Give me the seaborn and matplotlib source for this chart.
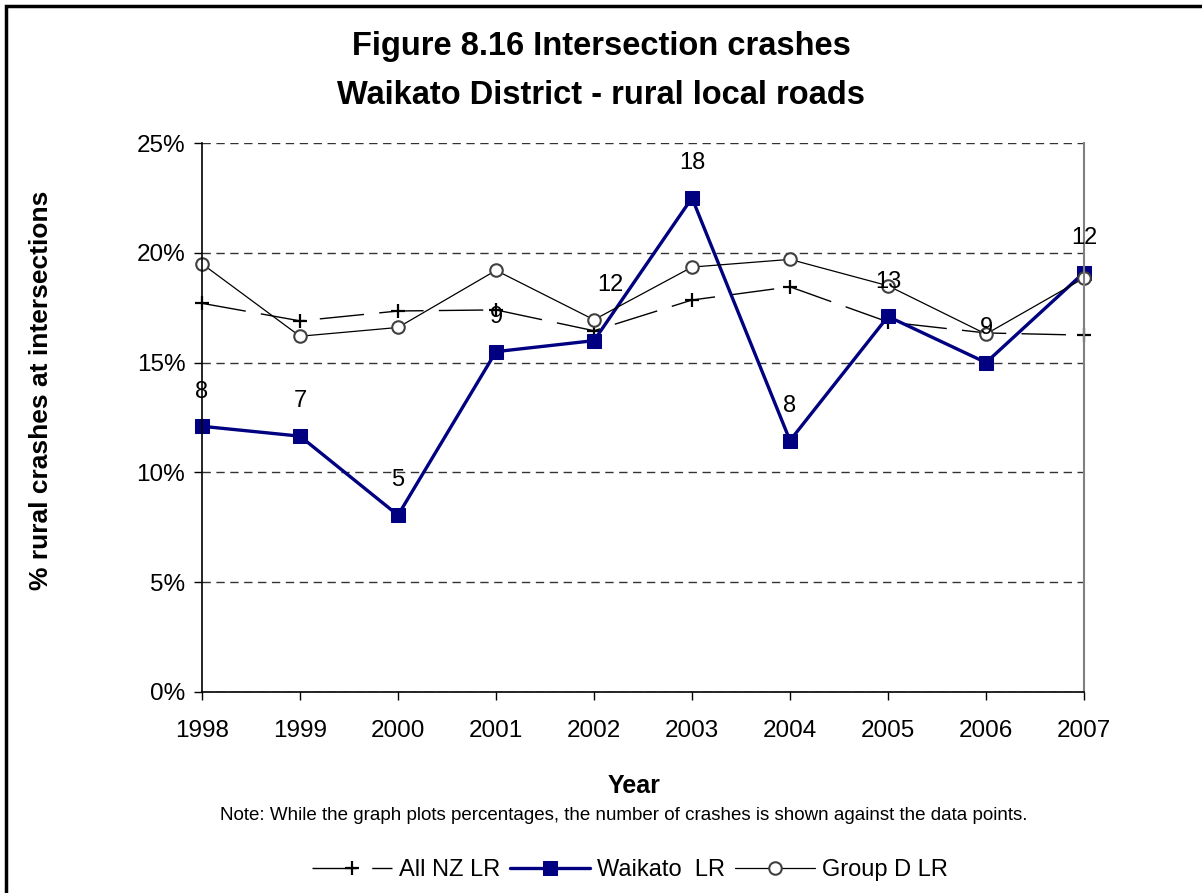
import seaborn as sns
import matplotlib.pyplot as plt
from matplotlib.patches import Rectangle
from matplotlib.ticker import FuncFormatter

years = [1998, 1999, 2000, 2001, 2002, 2003, 2004, 2005, 2006, 2007]
all_nz = [17.7, 16.9, 17.35, 17.4, 16.45, 17.85, 18.45, 16.85, 16.35, 16.25]
waikato = [12.1, 11.65, 8.05, 15.5, 16.0, 22.5, 11.45, 17.1, 15.0, 19.1]
group_d = [19.5, 16.2, 16.6, 19.2, 16.95, 19.35, 19.7, 18.5, 16.3, 18.85]
crash_counts = [8, 7, 5, 9, 12, 18, 8, 13, 9, 12]


def main() -> None:
    sns.set_style("white")
    plt.rcParams["font.family"] = ["Liberation Sans", "DejaVu Sans"]
    plt.rcParams["text.color"] = "black"
    plt.rcParams["axes.labelcolor"] = "black"

    fig = plt.figure(figsize=(12.02, 8.93), dpi=100)
    ax = fig.add_axes([202 / 1202, 1 - 692 / 893, 882 / 1202, 549 / 893])

    sns.lineplot(x=years, y=all_nz, ax=ax, color="black", linewidth=1,
                 linestyle=(0, (32, 11)), marker="+", markersize=10,
                 markeredgecolor="black", markeredgewidth=1.6,
                 label="All NZ LR", clip_on=False)
    sns.lineplot(x=years, y=waikato, ax=ax, color="#000080", linewidth=2.4,
                 marker="s", markersize=10, markeredgecolor="#000080",
                 label="Waikato  LR", clip_on=False)
    sns.lineplot(x=years, y=group_d, ax=ax, color="black", linewidth=0.9,
                 marker="o", markersize=9, markerfacecolor="white",
                 markeredgecolor="#404040", markeredgewidth=1.5,
                 label="Group D LR", clip_on=False)

    # crash counts shown against the Waikato points
    for yr, val, n in zip(years, waikato, crash_counts):
        dx, dy = (12, 40) if yr == 2002 else (0, 25)
        ax.annotate(str(n), (yr, val), xytext=(dx, dy), textcoords="offset points",
                    ha="center", va="center", fontsize=17, annotation_clip=False)

    ax.set_xlim(1998, 2007)
    ax.set_ylim(0, 25)
    ax.set_xticks(years)
    ax.set_yticks([0, 5, 10, 15, 20, 25])
    ax.yaxis.set_major_formatter(FuncFormatter(lambda v, p: f"{v:.0f}%"))
    ax.tick_params(axis="both", direction="out", length=6, width=1,
                   labelsize=17.5, colors="black", bottom=True, left=True)
    ax.tick_params(axis="x", pad=14)
    ax.tick_params(axis="y", pad=6)
    ax.grid(axis="y", linestyle=(0, (6, 4)), color="#333333", linewidth=1)
    ax.grid(axis="x", visible=False)

    for side in ["left", "bottom"]:
        ax.spines[side].set_color("black")
        ax.spines[side].set_linewidth(1.2)
    ax.spines["right"].set_color("#808080")
    ax.spines["right"].set_linewidth(1.5)
    ax.spines["top"].set_visible(False)

    ax.set_xlabel("Year", fontsize=18, fontweight="bold")
    ax.xaxis.set_label_coords((634 - 202) / 882, -(774 - 692) / 549)
    ax.set_ylabel("% rural crashes at intersections", fontsize=19,
                  fontweight="bold")
    ax.yaxis.set_label_coords(-(202 - 53) / 882, (692 - 390) / 549)

    fig.text(0.5, 1 - 47 / 893, "Figure 8.16 Intersection crashes",
             ha="center", va="center", fontsize=23.5, fontweight="bold")
    fig.text(0.5, 1 - 95 / 893, "Waikato District - rural local roads",
             ha="center", va="center", fontsize=23.5, fontweight="bold")
    fig.text(624 / 1202, 1 - 815 / 893,
             "Note: While the graph plots percentages, the number of crashes "
             "is shown against the data points.",
             ha="center", va="center", fontsize=13.5)

    ax.get_legend().remove()
    handles, labels = ax.get_legend_handles_labels()
    fig.legend(handles, labels, loc="center", bbox_to_anchor=(630 / 1202, 1 - 870 / 893),
               ncol=3, frameon=False, fontsize=17, handlelength=3.4,
               handletextpad=0.3, columnspacing=0.4)

    fig.patches.append(Rectangle((6 / 1202, -0.1), 1.2, 1.1 - 6 / 893,
                                 transform=fig.transFigure, fill=False,
                                 edgecolor="black", linewidth=2.5))

    fig.savefig("out.png", dpi=100)


if __name__ == "__main__":
    main()
